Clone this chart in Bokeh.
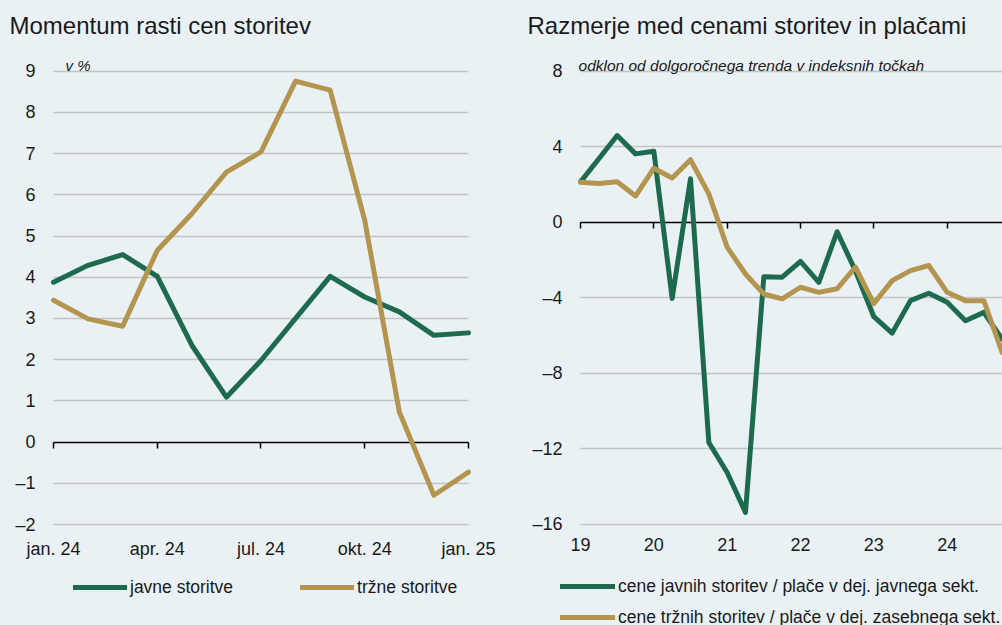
from bokeh.plotting import figure
from bokeh.layouts import row
from bokeh.models import Range1d, FixedTicker, Legend, LegendItem, Label, LinearAxis
from bokeh.embed import file_html
from bokeh.resources import INLINE

# ---------------- data: left chart ----------------
months = ["jan. 24", "feb. 24", "mar. 24", "apr. 24", "maj 24", "jun. 24", "jul. 24",
          "avg. 24", "sep. 24", "okt. 24", "nov. 24", "dec. 24", "jan. 25"]
javne = [3.88, 4.29, 4.55, 4.02, 2.35, 1.09, 1.98, 3.00, 4.02, 3.52, 3.16, 2.59, 2.65]
trzne = [3.44, 2.99, 2.81, 4.65, 5.54, 6.55, 7.04, 8.76, 8.54, 5.38, 0.73, -1.29, -0.73]
left_xtick_labels = ["jan. 24", "apr. 24", "jul. 24", "okt. 24", "jan. 25"]
left_yticks = [-2, -1, 0, 1, 2, 3, 4, 5, 6, 7, 8, 9]
left_ylabels = ["–2", "–1", "0", "1", "2", "3", "4", "5", "6", "7", "8", "9"]

# ---------------- data: right chart (quarterly, 19Q1 .. 24Q4) ----------------
years = [19, 20, 21, 22, 23, 24]
year_labels = ["19", "20", "21", "22", "23", "24"]
javne_ratio = [2.14, 3.36, 4.59, 3.62, 3.76, -4.03, 2.30, -11.66, -13.25, -15.36, -2.88, -2.91,
               -2.07, -3.18, -0.50, -2.58, -5.00, -5.87, -4.15, -3.76, -4.24, -5.21, -4.77, -6.18]
trzne_ratio = [2.12, 2.05, 2.14, 1.39, 2.86, 2.34, 3.31, 1.50, -1.32, -2.74, -3.80, -4.06,
               -3.44, -3.71, -3.52, -2.38, -4.31, -3.09, -2.56, -2.29, -3.71, -4.15, -4.15, -6.89]
right_yticks = [-16, -12, -8, -4, 0, 4, 8]
right_ylabels = ["–16", "–12", "–8", "–4", "0", "4", "8"]

# ---------------- style ----------------
BG = "#EAF1F5"
GREEN = "#1E6A4E"
GOLD = "#B3954F"
GRID = "#C4C4C4"
TXT = "#1A1A1A"
SANS = "Liberation Sans"


def style_labels(ax):
    ax.major_label_text_font = SANS
    ax.major_label_text_font_size = "18px"
    ax.major_label_text_color = TXT


def make_chart(width, x_range, y_range, title, title_offset,
               xticks, xlabels, yticks, ylabels, x_lo, x_hi):
    p = figure(width=width, height=625, x_range=x_range, y_range=y_range,
               x_axis_location=None, y_axis_location=None,
               output_backend="svg", toolbar_location=None,
               min_border_left=0, min_border_right=0,
               min_border_top=48, min_border_bottom=0,
               background_fill_color=BG, border_fill_color=BG, outline_line_color=None)
    p.title.text = title
    p.title.text_font = SANS
    p.title.text_font_size = "24px"
    p.title.text_font_style = "normal"
    p.title.text_color = TXT
    p.title.align = "left"
    p.title.offset = title_offset
    p.title.standoff = 19
    p.xgrid.grid_line_color = None
    p.ygrid.grid_line_color = GRID
    p.ygrid.grid_line_width = 1.3
    p.ygrid.ticker = FixedTicker(ticks=[t for t in yticks if t != 0])
    p.ygrid.cross_bounds = (x_lo, x_hi)

    # value axis: labels only, placed at the left edge of the data area
    yax = LinearAxis(fixed_location=x_lo, ticker=FixedTicker(ticks=yticks),
                     major_label_overrides={t: l for t, l in zip(yticks, ylabels)},
                     axis_line_color=None, major_tick_line_color=None,
                     minor_tick_line_color=None, major_tick_out=0, major_tick_in=0,
                     major_label_standoff=18)
    style_labels(yax)
    p.add_layout(yax, "left")

    # time axis labels below the lowest grid line
    xax = LinearAxis(fixed_location=min(yticks), ticker=FixedTicker(ticks=xticks),
                     major_label_overrides={t: l for t, l in zip(xticks, xlabels)},
                     axis_line_color=None, major_tick_line_color=None,
                     minor_tick_line_color=None, major_tick_out=0, major_tick_in=0,
                     major_label_standoff=14)
    style_labels(xax)
    p.add_layout(xax, "below")

    # zero line with downward tick marks
    zero = LinearAxis(fixed_location=0, ticker=FixedTicker(ticks=xticks),
                      bounds=(x_lo, x_hi),
                      axis_line_color="black", axis_line_width=1.5,
                      major_tick_line_color="black", major_tick_line_width=1.5,
                      major_tick_out=6, major_tick_in=0, minor_tick_line_color=None,
                      major_label_text_alpha=0, major_label_text_font_size="1px",
                      level="underlay")
    p.add_layout(zero, "below")
    return p


def make_legend(items, orientation, spacing, loc, glyph_width):
    return Legend(items=items, orientation=orientation, location=loc,
                  padding=0, margin=0, spacing=spacing,
                  border_line_color=None, background_fill_alpha=0,
                  glyph_width=glyph_width, glyph_height=24, label_height=24, label_standoff=3,
                  label_text_font=SANS, label_text_font_size="17.5px",
                  label_text_color=TXT)


# ---------------- left chart ----------------
mx = list(range(len(months)))
left_xticks = [months.index(m) for m in left_xtick_labels]
p1 = make_chart(505, Range1d(-1.5325, 13.07), Range1d(-4.45, 9.55),
                "Momentum rasti cen storitev", 9,
                left_xticks, left_xtick_labels, left_yticks, left_ylabels,
                mx[0], mx[-1])
g1 = p1.line(mx, javne, line_color=GREEN, line_width=5, line_join="round", line_cap="round")
t1 = p1.line(mx, trzne, line_color=GOLD, line_width=5, line_join="round", line_cap="round")
p1.add_layout(Label(x=0.35, y=max(left_yticks), y_offset=6, text="v %", text_font=SANS,
                    text_font_size="15px", text_font_style="italic", text_color=TXT,
                    text_baseline="alphabetic"))
p1.add_layout(make_legend([LegendItem(label="javne storitve", renderers=[g1]),
                           LegendItem(label="tržne storitve", renderers=[t1])],
                          "horizontal", 67, (73, 26), 54))

# ---------------- right chart ----------------
qx = [years[0] + i * 0.25 for i in range(len(javne_ratio))]
p2 = make_chart(497, Range1d(17.977, 24.755), Range1d(-21.35, 9.2),
                "Razmerje med cenami storitev in plačami", 22,
                years, year_labels, right_yticks, right_ylabels,
                years[0], 24.755)
g2 = p2.line(qx, javne_ratio, line_color=GREEN, line_width=5, line_join="round", line_cap="round")
t2 = p2.line(qx, trzne_ratio, line_color=GOLD, line_width=5, line_join="round", line_cap="round")
p2.add_layout(Label(x=years[0], y=max(right_yticks), x_offset=-2, y_offset=6,
                    text="odklon od dolgoročnega trenda v indeksnih točkah",
                    text_font=SANS, text_font_size="15.5px", text_font_style="italic",
                    text_color=TXT, text_baseline="alphabetic"))
p2.add_layout(make_legend([LegendItem(label="cene javnih storitev / plače v dej. javnega sekt.", renderers=[g2]),
                           LegendItem(label="cene tržnih storitev / plače v dej. zasebnega sekt.", renderers=[t2])],
                          "vertical", 7, (55, -4), 55))

layout = row(p1, p2, spacing=0, styles={"background-color": BG})
open("out.html", "w").write(file_html(layout, INLINE))
